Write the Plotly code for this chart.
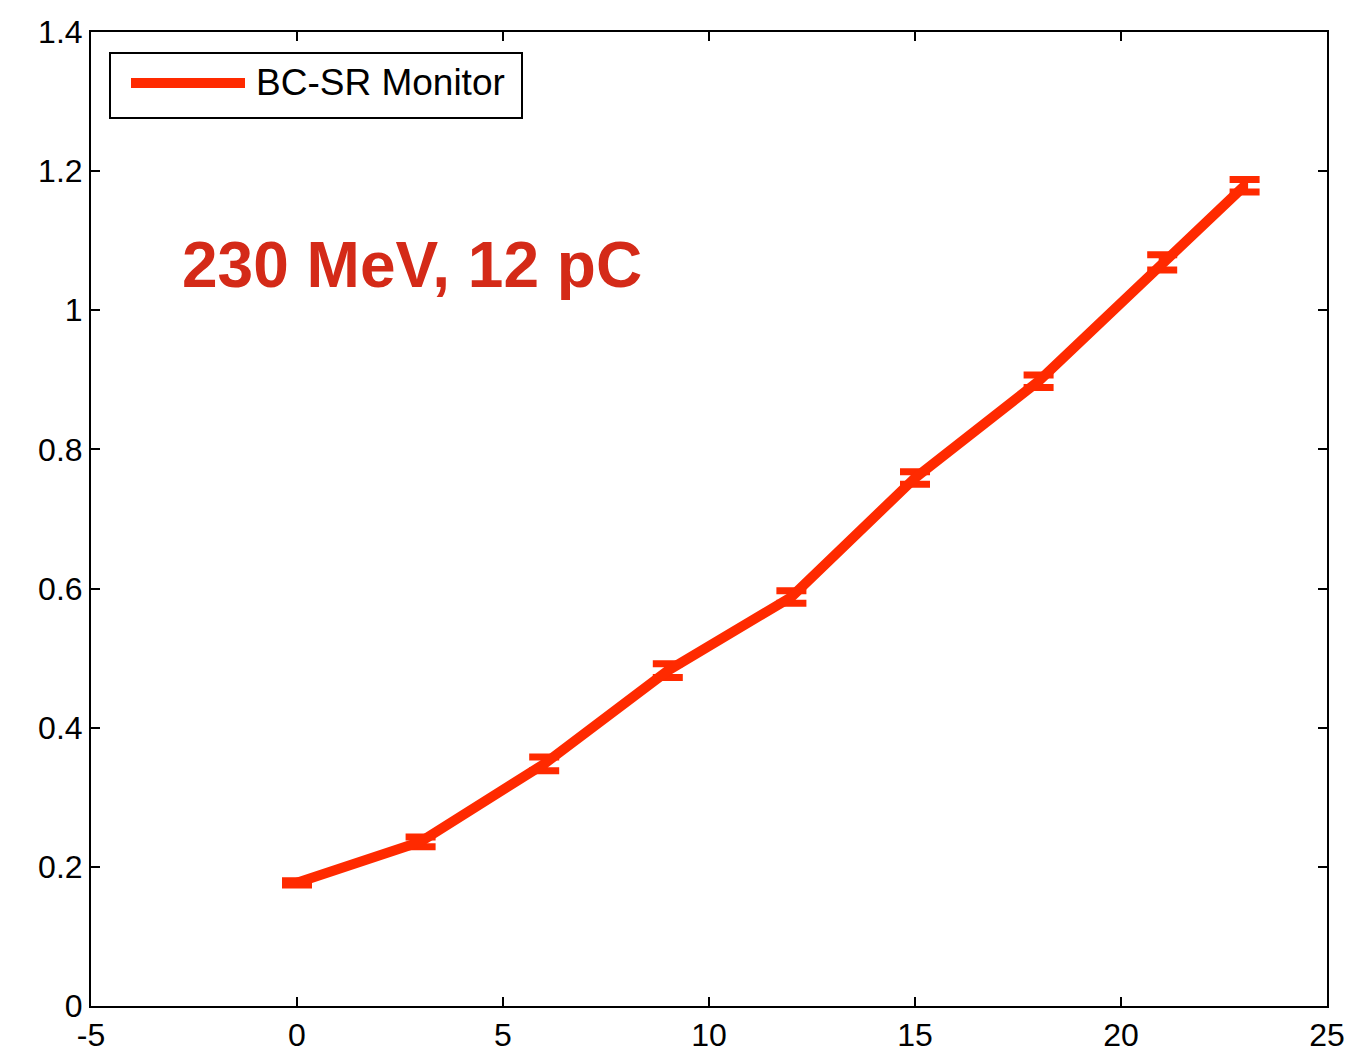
import plotly.graph_objects as go

x_vals = [0, 3, 6, 9, 12, 15, 18, 21, 23]
y_vals = [0.177, 0.236, 0.348, 0.482, 0.588, 0.759, 0.898, 1.069, 1.179]
y_err = [0.003, 0.007, 0.010, 0.010, 0.009, 0.009, 0.009, 0.011, 0.009]

x_ticks = [-5, 0, 5, 10, 15, 20, 25]
x_tick_text = ["-5", "0", "5", "10", "15", "20", "25"]
y_ticks = [0, 0.2, 0.4, 0.6, 0.8, 1.0, 1.2, 1.4]
y_tick_text = ["0", "0.2", "0.4", "0.6", "0.8", "1", "1.2", "1.4"]

series_name = "BC-SR Monitor"
label_text = "230 MeV, 12 pC"

RED = "#FF2A00"
FONT = "Liberation Sans, Arial, Helvetica, sans-serif"

fig = go.Figure()
fig.add_trace(go.Scatter(
    x=x_vals, y=y_vals, mode="lines", name=series_name,
    line=dict(color=RED, width=10),
    error_y=dict(type="data", array=y_err, visible=True, color=RED, thickness=7, width=15),
    showlegend=False,
))

axis_common = dict(
    showgrid=False, zeroline=False, showline=True, linecolor="black", linewidth=2,
    mirror="ticks", ticks="inside", ticklen=9, tickwidth=2, tickcolor="black",
    tickfont=dict(family=FONT, size=32, color="black"), automargin=False,
)
fig.update_xaxes(range=[-5, 25], tickvals=x_ticks, ticktext=x_tick_text, **axis_common)
fig.update_yaxes(range=[0, 1.4], tickvals=y_ticks, ticktext=y_tick_text, **axis_common)

# legend box (drawn manually to match the long line sample)
fig.add_shape(type="rect", xref="paper", yref="paper",
              x0=(110 - 91) / 1236, x1=(522 - 91) / 1236,
              y0=(1006 - 118) / 974, y1=(1006 - 53) / 974,
              line=dict(color="black", width=2), fillcolor="white", layer="above")
fig.add_shape(type="line", xref="paper", yref="paper",
              x0=(131 - 91) / 1236, x1=(245 - 91) / 1236,
              y0=(1006 - 83) / 974, y1=(1006 - 83) / 974,
              line=dict(color=RED, width=10), layer="above")
fig.add_annotation(xref="paper", yref="paper", x=(254 - 91) / 1236, y=(1006 - 82) / 974,
                   text=series_name, showarrow=False, xanchor="left", yanchor="middle",
                   font=dict(family=FONT, size=37, color="black"))

fig.add_annotation(x=-2.85, y=1.065, text="<b>" + label_text + "</b>", showarrow=False,
                   xanchor="left", yanchor="middle",
                   font=dict(family=FONT, size=64, color="#D42A18"))

fig.update_layout(
    width=1349, height=1059,
    margin=dict(l=91, r=22, t=32, b=53, autoexpand=False),
    paper_bgcolor="white", plot_bgcolor="white",
    showlegend=False,
)
fig.write_html("out.html")
